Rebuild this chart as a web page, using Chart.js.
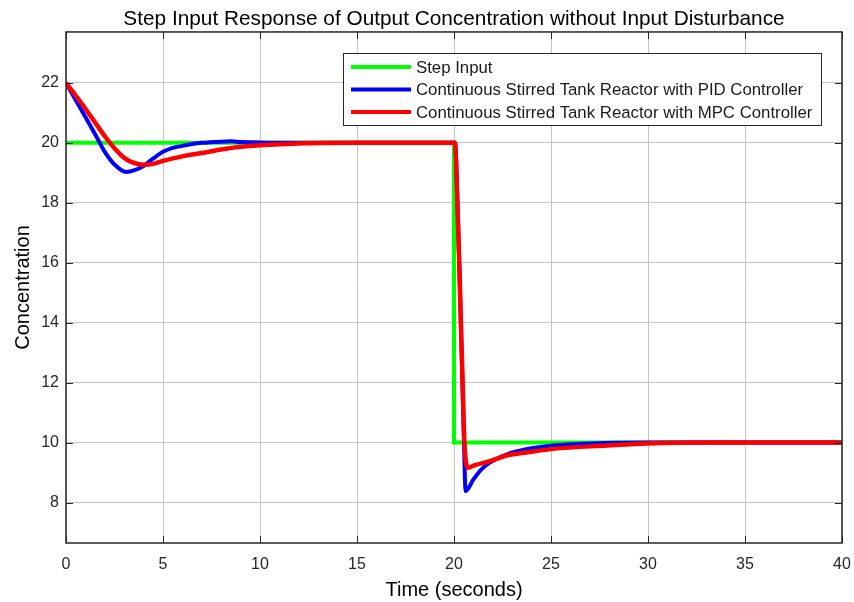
<!DOCTYPE html>
<html>
<head>
<meta charset="utf-8">
<script src="https://cdn.jsdelivr.net/npm/chart.js@4.4.1/dist/chart.umd.min.js"></script>
<style>
  html, body { margin: 0; padding: 0; background: #fff; }
  canvas { display: block; }
</style>
</head>
<body>
<canvas id="stepChart" width="854" height="602"></canvas>
<script>
// Step input (green)
const stepTime = [0, 20, 20, 40];
const stepConc = [20, 20, 10, 10];

// CSTR with PID controller (blue)
const pidTime = [0, 0.5, 1, 1.5, 2, 2.5, 3.1, 3.5, 4, 4.5, 5, 5.5, 6, 6.5, 7, 8, 8.5, 9, 10, 12, 20,
                 20.05, 20.2, 20.35, 20.5, 20.6, 21.0, 21.4, 21.86, 22.7, 23.6, 25.1, 27, 30, 40];
const pidConc = [22, 21.43, 20.86, 20.29, 19.7, 19.28, 19.03, 19.08, 19.23, 19.48, 19.7, 19.83, 19.9, 19.96, 20.0, 20.04, 20.05, 20.03, 20.01, 20.0, 20.0,
                 20.0, 17.6, 14.0, 10.4, 8.38, 8.77, 9.1, 9.34, 9.6, 9.76, 9.9, 9.97, 10.0, 10.0];

// CSTR with MPC controller (red)
const mpcTime = [0, 0.5, 1, 1.5, 2, 2.5, 3, 3.5, 4, 4.5, 5, 6, 7, 8, 9, 10, 12, 15, 20,
                 20.05, 20.17, 20.27, 20.36, 20.45, 20.53, 20.74, 21.0, 21.86, 22.7, 23.6, 25.1, 27.9, 30, 33, 40];
const mpcConc = [22, 21.58, 21.14, 20.68, 20.22, 19.82, 19.5, 19.33, 19.27, 19.3, 19.4, 19.55, 19.66, 19.78, 19.87, 19.92, 19.98, 20.0, 20.0,
                 20.0, 18.0, 16.0, 13.9, 11.9, 10.1, 9.16, 9.23, 9.38, 9.57, 9.66, 9.79, 9.9, 9.97, 10.0, 10.0];

const seriesLabels = [
    'Step Input',
    'Continuous Stirred Tank Reactor with PID Controller',
    'Continuous Stirred Tank Reactor with MPC Controller'
];
const seriesColors = ['#00ff00', '#0000ff', '#ff0000'];

const toPoints = (ts, ys) => ts.map((t, i) => ({ x: t, y: ys[i] }));

Chart.defaults.font.family = '"Liberation Sans", Arial, sans-serif';
Chart.defaults.color = '#262626';

// axes box + inward tick marks, like MATLAB
const boxPlugin = {
    id: 'boxPlugin',
    afterDatasetsDraw(chart) {
        const { ctx, chartArea: a, scales } = chart;
        ctx.save();
        ctx.strokeStyle = '#262626';
        ctx.lineWidth = 1;
        const tl = 7;
        ctx.beginPath();
        scales.x.ticks.forEach(t => {
            const px = Math.round(scales.x.getPixelForValue(t.value)) + 0.5;
            ctx.moveTo(px, a.bottom); ctx.lineTo(px, a.bottom - tl);
            ctx.moveTo(px, a.top); ctx.lineTo(px, a.top + tl);
        });
        scales.y.ticks.forEach(t => {
            const py = Math.round(scales.y.getPixelForValue(t.value)) + 0.5;
            ctx.moveTo(a.left, py); ctx.lineTo(a.left + tl, py);
            ctx.moveTo(a.right, py); ctx.lineTo(a.right - tl, py);
        });
        ctx.stroke();
        ctx.lineWidth = 1.5;
        ctx.strokeRect(a.left, a.top, a.right - a.left, a.bottom - a.top);
        ctx.restore();
    }
};

// legend box drawn inside the plot area
const legendPlugin = {
    id: 'legendPlugin',
    afterDraw(chart) {
        const ctx = chart.ctx;
        const bx = 343.5, by = 53.5, bw = 478, bh = 72;
        ctx.save();
        ctx.fillStyle = '#ffffff';
        ctx.fillRect(bx, by, bw, bh);
        ctx.strokeStyle = '#262626';
        ctx.lineWidth = 1;
        ctx.strokeRect(bx, by, bw, bh);
        ctx.font = '16.8px "Liberation Sans", Arial, sans-serif';
        ctx.textBaseline = 'middle';
        chart.data.datasets.forEach((ds, i) => {
            const yy = 67 + i * 22.5;
            ctx.strokeStyle = ds.borderColor;
            ctx.lineWidth = 4;
            ctx.beginPath();
            ctx.moveTo(351, yy); ctx.lineTo(411, yy);
            ctx.stroke();
            ctx.fillStyle = '#1a1a1a';
            ctx.fillText(ds.label, 416, yy + 1);
        });
        ctx.restore();
    }
};

new Chart(document.getElementById('stepChart'), {
    type: 'line',
    data: {
        datasets: [
            {
                label: seriesLabels[0],
                data: toPoints(stepTime, stepConc),
                borderColor: seriesColors[0],
                borderWidth: 4,
                pointRadius: 0,
                tension: 0,
                order: 3
            },
            {
                label: seriesLabels[1],
                data: toPoints(pidTime, pidConc),
                borderColor: seriesColors[1],
                borderWidth: 4,
                pointRadius: 0,
                cubicInterpolationMode: 'monotone',
                order: 2
            },
            {
                label: seriesLabels[2],
                data: toPoints(mpcTime, mpcConc),
                borderColor: seriesColors[2],
                borderWidth: 4.5,
                pointRadius: 0,
                cubicInterpolationMode: 'monotone',
                order: 1
            }
        ]
    },
    options: {
        responsive: false,
        animation: false,
        devicePixelRatio: 1,
        layout: { padding: { left: 0, right: 12, top: 0, bottom: 0 } },
        plugins: {
            legend: { display: false },
            tooltip: { enabled: false },
            title: {
                display: true,
                fullSize: false,
                text: 'Step Input Response of Output Concentration without Input Disturbance',
                font: { size: 20.8, weight: 'normal' },
                color: '#000',
                padding: { top: 6.5, bottom: 0.5 }
            }
        },
        scales: {
            x: {
                type: 'linear',
                min: 0,
                max: 40,
                afterFit: s => { s.height = 59; s.paddingLeft = 0; s.paddingRight = 0; },
                ticks: { stepSize: 5, font: { size: 16 }, color: '#262626', padding: 12, maxRotation: 0 },
                grid: { color: '#c4c4c4', drawTicks: false },
                border: { display: false },
                title: { display: true, text: 'Time (seconds)', font: { size: 20 }, color: '#000', padding: { top: 0, bottom: 0 } }
            },
            y: {
                min: 6.65,
                max: 23.7,
                afterFit: s => { s.width = 66; },
                ticks: { stepSize: 2, includeBounds: false, font: { size: 16 }, color: '#262626', padding: 7 },
                grid: { color: '#c4c4c4', drawTicks: false },
                border: { display: false },
                title: { display: true, text: 'Concentration', font: { size: 20 }, color: '#000', padding: { top: 11, bottom: 0 } }
            }
        }
    },
    plugins: [boxPlugin, legendPlugin]
});
</script>
</body>
</html>
